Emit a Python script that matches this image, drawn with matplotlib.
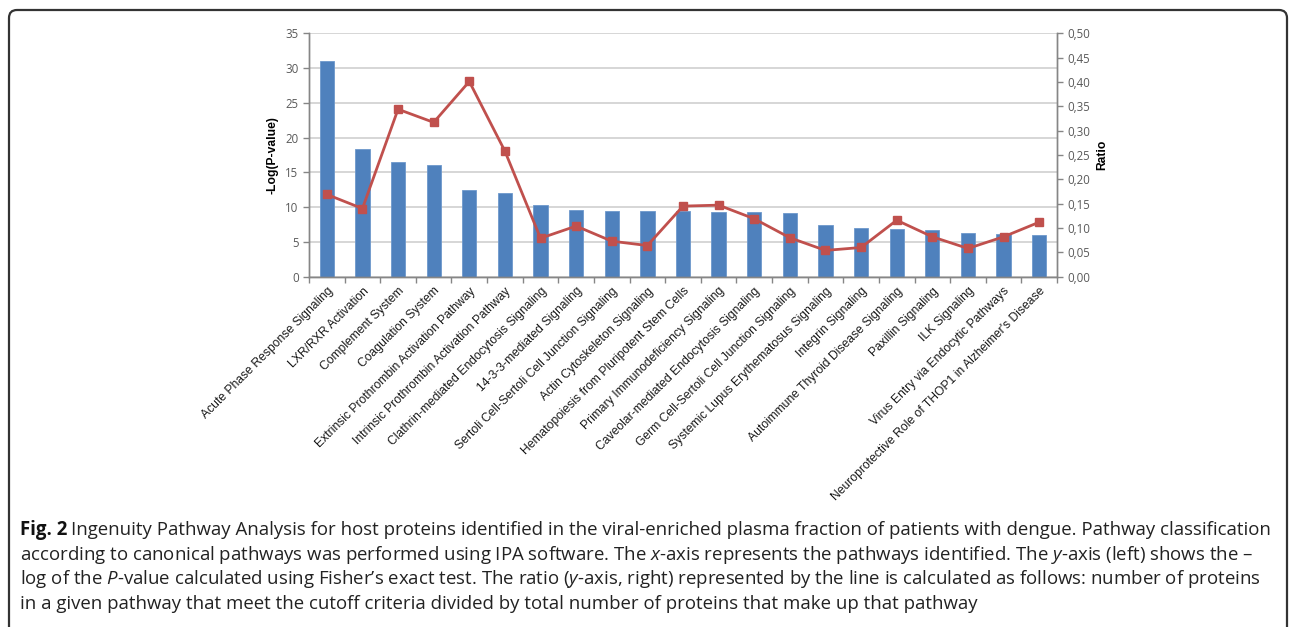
import numpy as np
import matplotlib
matplotlib.use("Agg")
import matplotlib.pyplot as plt
from matplotlib.patches import FancyBboxPatch
from matplotlib.ticker import FuncFormatter, MultipleLocator, FixedLocator

pathways = [
    "Acute Phase Response Signaling", "LXR/RXR Activation", "Complement System",
    "Coagulation System", "Extrinsic Prothrombin Activation Pathway",
    "Intrinsic Prothrombin Activation Pathway", "Clathrin-mediated Endocytosis Signaling",
    "14-3-3-mediated Signaling", "Sertoli Cell-Sertoli Cell Junction Signaling",
    "Actin Cytoskeleton Signaling", "Hematopoiesis from Pluripotent Stem Cells",
    "Primary Immunodeficiency Signaling", "Caveolar-mediated Endocytosis Signaling",
    "Germ Cell-Sertoli Cell Junction Signaling", "Systemic Lupus Erythematosus Signaling",
    "Integrin Signaling", "Autoimmune Thyroid Disease Signaling", "Paxillin Signaling",
    "ILK Signaling", "Virus Entry via Endocytic Pathways",
    "Neuroprotective Role of THOP1 in Alzheimer's Disease",
]
neg_log_p = [31.0, 18.3, 16.5, 16.1, 12.5, 12.0, 10.3, 9.6, 9.5, 9.4, 9.4,
             9.35, 9.25, 9.15, 7.4, 6.95, 6.85, 6.75, 6.35, 6.15, 5.95]
ratio = [0.169, 0.140, 0.344, 0.317, 0.401, 0.258, 0.079, 0.104, 0.073, 0.064, 0.145,
         0.147, 0.119, 0.080, 0.054, 0.060, 0.116, 0.082, 0.058, 0.082, 0.112]

fig_label = "Fig. 2"
caption = [
    r"Ingenuity Pathway Analysis for host proteins identified in the viral-enriched plasma fraction of patients with dengue. Pathway classification",
    r"according to canonical pathways was performed using IPA software. The $x$-axis represents the pathways identified. The $y$-axis (left) shows the –",
    r"log of the $P$-value calculated using Fisher’s exact test. The ratio ($y$-axis, right) represented by the line is calculated as follows: number of proteins",
    r"in a given pathway that meet the cutoff criteria divided by total number of proteins that make up that pathway",
]

plt.rcParams["mathtext.fontset"] = "custom"
plt.rcParams["mathtext.rm"] = "Open Sans"
plt.rcParams["mathtext.it"] = "Open Sans:italic"
plt.rcParams["mathtext.bf"] = "Open Sans:bold"

W, H = 1292, 627
fig = plt.figure(figsize=(W / 100, H / 100), dpi=100)
ax = fig.add_axes([309 / W, 1 - 276.7 / H, (1057 - 309) / W, (276.7 - 33.3) / H])
ax2 = ax.twinx()

x = np.arange(len(pathways))
grid_c = "#d0d0d0"
axis_c = "#868686"
tick_c = "#595959"

ax.bar(x, neg_log_p, width=0.4, color="#4f81bd", edgecolor="#6d98cc", linewidth=0.6, zorder=2)
ax.set_xlim(-0.5, len(pathways) - 0.5)
ax.set_ylim(0, 35)
ax.yaxis.set_major_locator(MultipleLocator(5))
ax.grid(axis="y", color=grid_c, linewidth=1.2, zorder=0)
ax.set_axisbelow(True)

ax2.plot(x, ratio, color="#c0504d", linewidth=2, marker="s", markersize=6, zorder=3)
ax2.set_ylim(0, 0.5)
ax2.yaxis.set_major_locator(MultipleLocator(0.05))
ax2.yaxis.set_major_formatter(FuncFormatter(lambda v, p: f"{v:.2f}".replace(".", ",")))

for a in (ax, ax2):
    a.spines["top"].set_visible(False)
    for s in ("left", "right", "bottom"):
        a.spines[s].set_color(axis_c)
        a.spines[s].set_linewidth(1.0)
    a.tick_params(axis="y", colors=axis_c, labelcolor=tick_c, labelsize=8.3, length=4, width=1)
    for lab in a.get_yticklabels():
        lab.set_family("Open Sans")

ax.set_xticks(x)
ax.set_xticklabels(pathways, rotation=45, ha="right", rotation_mode="anchor",
                   fontsize=8.7, family="Liberation Sans", color="#1a1a1a")
ax.tick_params(axis="x", which="major", length=0, pad=6)
ax.xaxis.set_minor_locator(FixedLocator(np.arange(-0.5, len(pathways), 1)))
ax.tick_params(axis="x", which="minor", length=4, color=axis_c, width=1)

ax.set_ylabel("-Log(P-value)", fontsize=8.7, fontweight="bold", family="Liberation Sans", labelpad=5)
ax2.set_ylabel("Ratio", fontsize=8.7, fontweight="bold", family="Liberation Sans", labelpad=4)

# caption: size chosen so that the first line runs from x=20 to x=1273
renderer = fig.canvas.get_renderer()
x0 = 20
y_lines = [1 - (530 + i * 24.7) / H for i in range(len(caption))]
fs = 12.3
for _ in range(3):
    lbl = fig.text(x0 / W, y_lines[0], fig_label, fontsize=fs, family="Open Sans",
                   weight="bold", color="#111111", va="center", ha="left")
    bb = lbl.get_window_extent(renderer)
    gap = 0.28 * fs
    first = fig.text((bb.x1 + gap) / W, y_lines[0], caption[0], fontsize=fs, family="Open Sans",
                     color="#222222", va="center", ha="left")
    end = first.get_window_extent(renderer).x1
    lbl.remove()
    first.remove()
    fs *= (1273 - x0) / (end - x0)

lbl = fig.text(x0 / W, y_lines[0], fig_label, fontsize=fs, family="Open Sans",
               weight="bold", color="#111111", va="center", ha="left")
bb = lbl.get_window_extent(renderer)
fig.text((bb.x1 + 0.28 * fs) / W, y_lines[0], caption[0], fontsize=fs, family="Open Sans",
         color="#222222", va="center", ha="left")
for i in range(1, len(caption)):
    fig.text(x0 / W, y_lines[i], caption[i], fontsize=fs, family="Open Sans",
             color="#222222", va="center", ha="left")

border = FancyBboxPatch((9, -30), W - 5 - 9, H - 10 + 30, boxstyle="round,pad=0,rounding_size=8",
                        transform=None, fill=False, edgecolor="#333333", linewidth=1.6)
fig.patches.append(border)

fig.savefig("out.png", dpi=100)
